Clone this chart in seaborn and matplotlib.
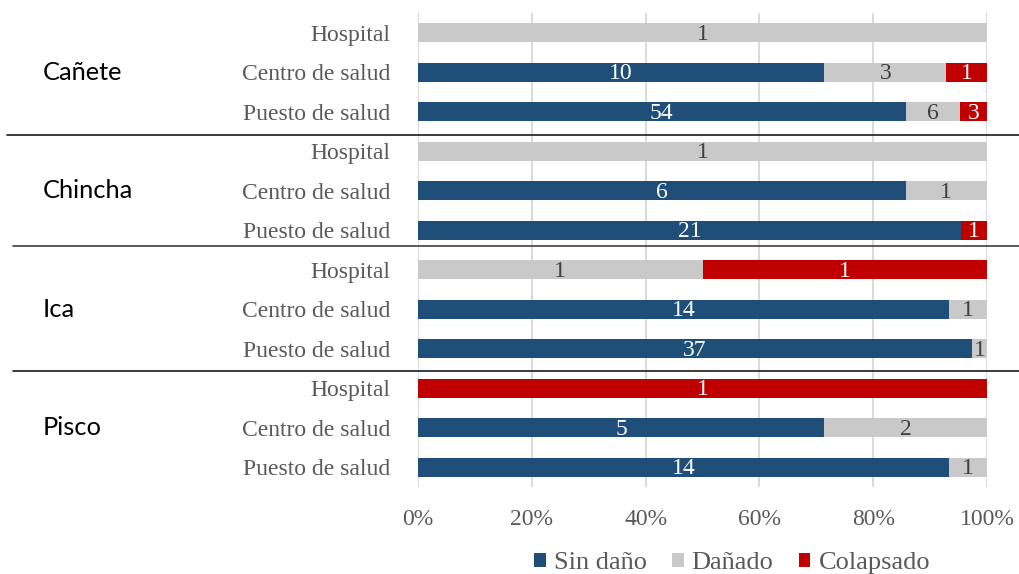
import matplotlib
matplotlib.use("Agg")
import matplotlib.pyplot as plt
import matplotlib.transforms as mtransforms
from matplotlib.lines import Line2D
from matplotlib.patches import Patch
import numpy as np
import pandas as pd
import seaborn as sns

# ---- data -------------------------------------------------------------
provinces = ["Cañete", "Chincha", "Ica", "Pisco"]
facility_types = ["Hospital", "Centro de salud", "Puesto de salud"]
states = ["Sin daño", "Dañado", "Colapsado"]

# one value per (province, facility type), in the order listed above
sin_dano = [0, 10, 54, 0, 6, 21, 0, 14, 37, 0, 5, 14]
danado = [1, 3, 6, 1, 1, 0, 1, 1, 1, 0, 2, 1]
colapsado = [0, 1, 3, 0, 0, 1, 1, 0, 0, 1, 0, 0]

tick_values = [0, 0.2, 0.4, 0.6, 0.8, 1.0]
tick_labels = ["0%", "20%", "40%", "60%", "80%", "100%"]

# ---- style ------------------------------------------------------------
BLUE, GREY, RED = "#1F4E79", "#C9C9C9", "#C00000"
TEXT_GREY = "#595959"
SERIF = "Liberation Serif"
SANS = "Lato"
FS = 17

sns.set_theme(style="white")

rows = [f"{p}|{f}" for p in provinces for f in facility_types]
df = pd.DataFrame({
    "row": rows,
    "provincia": [p for p in provinces for _ in facility_types],
    "tipo": [f for _ in provinces for f in facility_types],
    "Sin daño": sin_dano,
    "Dañado": danado,
    "Colapsado": colapsado,
})
df["total"] = df[states].sum(axis=1)
df["end_sin"] = df["Sin daño"] / df["total"]
df["end_dan"] = (df["Sin daño"] + df["Dañado"]) / df["total"]
df["end_col"] = df[states].sum(axis=1) / df["total"]
# layered cumulative widths (a layer is hidden where its own count is zero)
df["w_col"] = np.where(df["Colapsado"] > 0, df["end_col"], 0.0)
df["w_dan"] = np.where(df["Dañado"] > 0, df["end_dan"], 0.0)
df["w_sin"] = df["end_sin"]

W, H, DPI = 1020, 574, 100
fig = plt.figure(figsize=(W / DPI, H / DPI), dpi=DPI)
ax = fig.add_axes([418 / W, 1 - 487 / H, (987 - 418) / W, (487 - 13) / H])

bar_h = 0.48
for col, color in [("w_col", RED), ("w_dan", GREY), ("w_sin", BLUE)]:
    sns.barplot(data=df, x=col, y="row", order=rows, orient="h", color=color,
                saturation=1, width=bar_h, errorbar=None, ax=ax,
                linewidth=0)

# value labels in the middle of each segment
starts = {"Sin daño": 0 * df["end_sin"], "Dañado": df["end_sin"], "Colapsado": df["end_dan"]}
ends = {"Sin daño": df["end_sin"], "Dañado": df["end_dan"], "Colapsado": df["end_col"]}
label_colors = {"Sin daño": "white", "Dañado": "#404040", "Colapsado": "white"}
for i, r in df.iterrows():
    for s in states:
        v = r[s]
        if v > 0:
            cx = (starts[s][i] + ends[s][i]) / 2
            ax.text(cx, i + 0.04, str(v), ha="center", va="center",
                    fontsize=FS, family=SERIF, color=label_colors[s])

ax.set_xlim(0, 1)
ax.set_ylim(len(rows) - 0.5, -0.5)
ax.set_xticks(tick_values)
ax.set_xticklabels(tick_labels)
ax.set_yticks(range(len(rows)))
ax.set_yticklabels(df["tipo"])
ax.set_xlabel("")
ax.set_ylabel("")
for lab in ax.get_xticklabels() + ax.get_yticklabels():
    lab.set_family(SERIF)
    lab.set_fontsize(FS)
    lab.set_color(TEXT_GREY)
ax.tick_params(axis="x", length=0, pad=16)
ax.tick_params(axis="y", length=0, pad=20)
ax.xaxis.grid(True, color="#D9D9D9", linewidth=1.4)
ax.yaxis.grid(False)
ax.set_axisbelow(True)
for sp in ax.spines.values():
    sp.set_visible(False)

# province names and group separators
blend = mtransforms.blended_transform_factory(fig.transFigure, ax.transData)
for g, prov in enumerate(provinces):
    fig.text(43 / W, g * 3 + 1, prov, transform=blend, ha="left", va="center",
             fontsize=FS + 1.3, family=SANS, color="black")

sep_y = [2.58, 5.39, 8.57]
sep_x0 = [7, 13, 13]
sep_c = ["#1a1a1a", "#404040", "#1a1a1a"]
for y, x0, c in zip(sep_y, sep_x0, sep_c):
    fig.add_artist(Line2D([x0 / W, 1.0], [y, y], transform=blend,
                          color=c, linewidth=1.2, clip_on=False))

handles = [Patch(facecolor=c, edgecolor="none") for c in (BLUE, GREY, RED)]
leg = fig.legend(handles, states, loc="center", bbox_to_anchor=(732 / W, 1 - 563 / H),
                 ncol=3, frameon=False, handlelength=0.45, handleheight=0.45,
                 handletextpad=0.3, columnspacing=0.95,
                 prop={"family": SERIF, "size": 19})
for t in leg.get_texts():
    t.set_color(TEXT_GREY)

fig.savefig("out.png", dpi=DPI)
